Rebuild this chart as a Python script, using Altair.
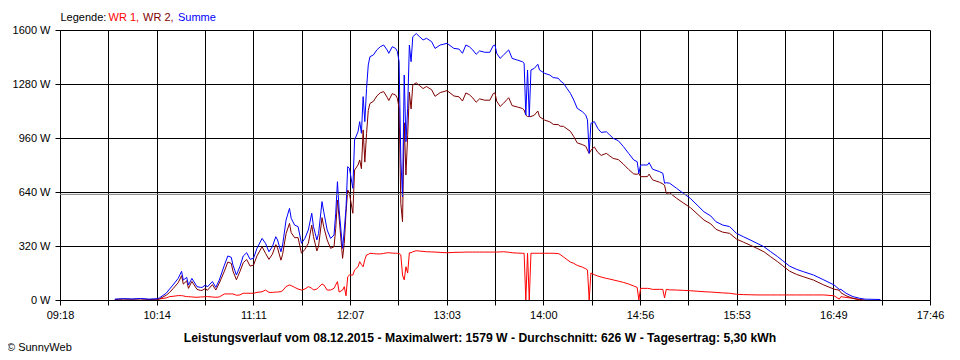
import altair as alt
import pandas as pd

TIMES = [
    "09:50", "09:55", "10:00", "10:05", "10:10", "10:15", "10:16", "10:20", "10:22", "10:24",
    "10:27", "10:29", "10:30", "10:32", "10:33", "10:35", "10:38", "10:40", "10:41", "10:43",
    "10:44", "10:47", "10:49", "10:51", "10:54", "10:56", "10:58", "10:59", "11:01", "11:03",
    "11:05", "11:07", "11:09", "11:11", "11:13", "11:16", "11:18", "11:20", "11:22", "11:24",
    "11:25", "11:27", "11:28", "11:30", "11:32", "11:33", "11:35", "11:37", "11:39", "11:41",
    "11:43", "11:45", "11:46", "11:48", "11:49", "11:51", "11:52", "11:54", "11:56", "11:58",
    "11:59", "12:00", "12:01", "12:03", "12:04", "12:05", "12:06", "12:07", "12:09", "12:10",
    "12:12", "12:13", "12:14", "12:15", "12:16", "12:17", "12:18", "12:19", "12:21", "12:23",
    "12:25", "12:27", "12:29", "12:30", "12:32", "12:34", "12:35", "12:36", "12:37", "12:38",
    "12:39", "12:40", "12:41", "12:42", "12:43", "12:44", "12:46", "12:48", "12:50", "12:52",
    "12:55", "12:57", "13:00", "13:04", "13:08", "13:11", "13:13", "13:15", "13:17", "13:19",
    "13:21", "13:23", "13:26", "13:29", "13:31", "13:32", "13:33", "13:35", "13:37", "13:39",
    "13:40", "13:42", "13:45", "13:48", "13:49", "13:50", "13:51", "13:52", "13:53", "13:55",
    "13:57", "13:58", "14:01", "14:04", "14:06", "14:09", "14:10", "14:12", "14:14", "14:16",
    "14:18", "14:20", "14:23", "14:25", "14:26", "14:27", "14:28", "14:30", "14:32", "14:34",
    "14:37", "14:39", "14:41", "14:44", "14:47", "14:50", "14:53", "14:55", "14:56", "14:57",
    "15:01", "15:02", "15:04", "15:08", "15:10", "15:11", "15:12", "15:14", "15:18", "15:22",
    "15:26", "15:30", "15:34", "15:38", "15:41", "15:45", "15:49", "15:53", "15:57", "16:01",
    "16:05", "16:09", "16:13", "16:17", "16:20", "16:24", "16:28", "16:32", "16:38", "16:44",
    "16:50", "16:53", "16:54", "16:57", "17:01", "17:05", "17:08", "17:17",
]

WR1 = [
    None, None, None, None, None, 4, 6, 12, 20, 22,
    26, 26, 24, 20, 20, 18, 16, 18, 18, 20,
    20, 18, 16, 18, 36, 36, 36, 36, 28, 30,
    40, 40, 40, 40, 45, 49, 59, 45, 45, 47,
    47, 50, 55, 80, 89, 85, 75, 65, 59, 65,
    79, 70, 59, 65, 75, 95, 90, 59, 59, 69,
    90, 109, 47, 59, 79, 25, 138, 148, 148, 178,
    197, 227, 210, 197, 240, 267, 270, 277, 275, 273,
    273, 276, 280, 280, 278, 277, 277, 275, 267, 148,
    119, 197, 160, 280, 280, 286, 292, 290, 288, 286,
    285, 284, 282, 280, 282, 283, 283, 284, 284, 284,
    284, 284, 284, 284, 284, 284, 284, 285, 286, 284,
    283, 280, 278, 277, 277, 0, 277, 0, 277, 277,
    277, 277, 277, 277, 277, 275, 270, 255, 240, 225,
    217, 205, 195, 185, 178, 0, 160, 150, 142, 136,
    128, 124, 119, 112, 104, 95, 83, 75, 0, 69,
    69, 68, 63, 63, 63, 12, 63, 60, 59, 57,
    55, 52, 49, 47, 45, 42, 40, 34, 32, 31,
    30, 30, 30, 30, 30, 30, 30, 30, 30, 30,
    25, 5, 20, 15, 10, 0, None, None,
]

WR2 = [
    3, 5, 4, 6, 3, 4, 6, 28, 45, 67,
    102, 144, 94, 114, 69, 110, 63, 57, 57, 69,
    57, 91, 59, 100, 171, 225, 217, 171, 120, 167,
    221, 240, 201, 207, 261, 316, 277, 241, 271, 328,
    309, 236, 271, 394, 454, 399, 369, 370, 277, 300,
    336, 444, 376, 291, 320, 488, 433, 356, 306, 316,
    424, 592, 486, 247, 336, 518, 652, 632, 514, 770,
    800, 830, 778, 1008, 817, 987, 1123, 1165, 1177, 1209,
    1228, 1235, 1202, 1182, 1223, 1214, 1195, 1137, 573, 464,
    1050, 741, 976, 1231, 1132, 1274, 1287, 1270, 1253, 1265,
    1246, 1207, 1229, 1241, 1209, 1204, 1179, 1227, 1217, 1198,
    1172, 1192, 1184, 1184, 1224, 1227, 1178, 1147, 1166, 1188,
    1199, 1152, 1144, 1135, 1126, 1096, 1087, 1087, 1087, 1096,
    1120, 1086, 1066, 1056, 1041, 1039, 1030, 1029, 1014, 1000,
    968, 931, 921, 911, 889, 869, 887, 907, 875, 857,
    869, 854, 839, 832, 805, 774, 747, 745, 750, 731,
    731, 746, 712, 698, 688, 680, 632, 635, 603, 575,
    548, 511, 474, 451, 419, 402, 395, 361, 343, 325,
    306, 286, 256, 227, 203, 171, 152, 138, 118, 89,
    64, 58, 43, 25, 10, 3, 0, None,
]

SUMME = [
    5, 8, 6, 9, 5, 8, 12, 40, 65, 89,
    128, 170, 118, 134, 89, 128, 79, 75, 75, 89,
    77, 109, 75, 118, 207, 261, 253, 207, 148, 197,
    261, 280, 241, 247, 306, 365, 336, 286, 316, 375,
    356, 286, 326, 474, 543, 484, 444, 435, 336, 365,
    415, 514, 435, 356, 395, 583, 523, 415, 365, 385,
    514, 701, 533, 306, 415, 543, 790, 780, 662, 948,
    997, 1057, 988, 1205, 1057, 1254, 1393, 1442, 1452, 1482,
    1501, 1511, 1482, 1462, 1501, 1491, 1472, 1412, 840, 612,
    1333, 938, 1136, 1511, 1412, 1560, 1579, 1560, 1541, 1551,
    1531, 1491, 1511, 1521, 1491, 1487, 1462, 1511, 1501, 1482,
    1456, 1476, 1468, 1468, 1508, 1511, 1462, 1432, 1452, 1472,
    1482, 1432, 1422, 1412, 1403, 1096, 1363, 1087, 1363, 1373,
    1397, 1363, 1343, 1333, 1318, 1314, 1300, 1284, 1254, 1225,
    1185, 1136, 1116, 1096, 1067, 869, 1047, 1057, 1017, 993,
    997, 978, 958, 944, 909, 869, 830, 820, 750, 800,
    800, 814, 775, 761, 751, 692, 695, 692, 662, 632,
    603, 563, 523, 498, 464, 444, 435, 395, 375, 356,
    336, 316, 286, 257, 233, 201, 182, 168, 148, 119,
    89, 63, 63, 40, 20, 10, 5, 3,
]

X_TICK_LABELS = ["09:18", "10:14", "11:11", "12:07", "13:03",
                 "14:00", "14:56", "15:53", "16:49", "17:46"]
Y_TICKS = [0, 320, 640, 960, 1280, 1600]
AVERAGE = 626
LEGEND_PARTS = [("Legende:", "#000000"), ("WR 1,", "#FF0000"),
                ("WR 2,", "#800000"), ("Summe", "#0000FF")]
TITLE = ("Leistungsverlauf vom 08.12.2015 - Maximalwert: 1579 W - "
         "Durchschnitt: 626 W - Tagesertrag: 5,30 kWh")
COPYRIGHT = "\u00a9 SunnyWeb"

FONT = "Liberation Sans"


def to_min(s):
    h, m = s.split(":")
    return int(h) * 60 + int(m)


start = to_min(X_TICK_LABELS[0])
end = to_min(X_TICK_LABELS[-1])
n_int = 2 * (len(X_TICK_LABELS) - 1)
x_ticks = [start + i * (end - start) / n_int for i in range(n_int + 1)]

parts = []
for i, v in enumerate(x_ticks):
    if i % 2 == 0:
        parts.append(f"abs(datum.value - {v:.4f}) < 0.5 ? '{X_TICK_LABELS[i // 2]}'")
x_label_expr = " : ".join(parts) + " : ''"

df = pd.DataFrame({
    "t": [to_min(s) for s in TIMES],
    "idx": list(range(len(TIMES))),
    "WR1": WR1,
    "WR2": WR2,
    "Summe": SUMME,
})

x_enc = alt.X(
    "t:Q",
    scale=alt.Scale(domain=[start, end], nice=False, zero=False),
    axis=alt.Axis(values=x_ticks, labelExpr=x_label_expr, grid=True,
                  gridColor="#000000", gridOpacity=1, gridWidth=1,
                  tickColor="#000000", tickSize=5, tickWidth=1,
                  domainColor="#000000", labelColor="#000000",
                  labelFont=FONT, labelFontSize=11, labelPadding=4,
                  labelAngle=0, labelOverlap=False, labelFlush=False,
                  title=None),
)


def y_enc(field):
    return alt.Y(
        f"{field}:Q",
        scale=alt.Scale(domain=[0, 1600], nice=False),
        axis=alt.Axis(values=Y_TICKS, labelExpr="datum.value + ' W'", grid=True,
                      gridColor="#000000", gridOpacity=1, gridWidth=1,
                      tickColor="#000000", tickSize=5, tickWidth=1,
                      domainColor="#000000", labelColor="#000000",
                      labelFont=FONT, labelFontSize=11, labelPadding=5,
                      labelOverlap=False, labelFlush=False, title=None),
    )


base = alt.Chart(df)

avg_rule = alt.Chart(pd.DataFrame({"avg": [AVERAGE]})).mark_rule(
    color="#808080", strokeWidth=1
).encode(y=alt.Y("avg:Q", scale=alt.Scale(domain=[0, 1600], nice=False)))

line_wr1 = base.mark_line(color="#FF0000", strokeWidth=1).encode(
    x=x_enc, y=y_enc("WR1"), order="idx:Q")
line_wr2 = base.mark_line(color="#800000", strokeWidth=1).encode(
    x=x_enc, y=y_enc("WR2"), order="idx:Q")
line_sum = base.mark_line(color="#0000FF", strokeWidth=1).encode(
    x=x_enc, y=y_enc("Summe"), order="idx:Q")

# legend text pieces (top-left)
legend_x = [0.5, 48.5, 83, 118]
legend_layers = []
for (txt, col), lx in zip(LEGEND_PARTS, legend_x):
    legend_layers.append(
        alt.Chart(pd.DataFrame({"a": [0]})).mark_text(
            text=txt, color=col, font=FONT, fontSize=11, align="left",
            baseline="alphabetic"
        ).encode(x=alt.value(lx), y=alt.value(-9.5))
    )

title_layer = alt.Chart(pd.DataFrame({"a": [0]})).mark_text(
    text=TITLE, color="#000000", font=FONT, fontSize=12.2, fontWeight="bold",
    align="center", baseline="alphabetic"
).encode(x=alt.value(420), y=alt.value(311.5))

copy_layer = alt.Chart(pd.DataFrame({"a": [0]})).mark_text(
    text=COPYRIGHT, color="#000000", font=FONT, fontSize=11, align="left",
    baseline="alphabetic"
).encode(x=alt.value(-53), y=alt.value(321))

chart = alt.layer(
    line_wr1, line_wr2, line_sum, avg_rule, title_layer, copy_layer, *legend_layers
).resolve_scale(y="shared").properties(
    width=870, height=270,
    autosize=alt.AutoSizeParams(type="none"),
    padding={"left": 52, "top": 22, "right": 22, "bottom": 52},
    background="#FFFFFF",
).configure_view(stroke=None)

chart.save("out.html", embed_options={"renderer": "svg", "actions": False})
